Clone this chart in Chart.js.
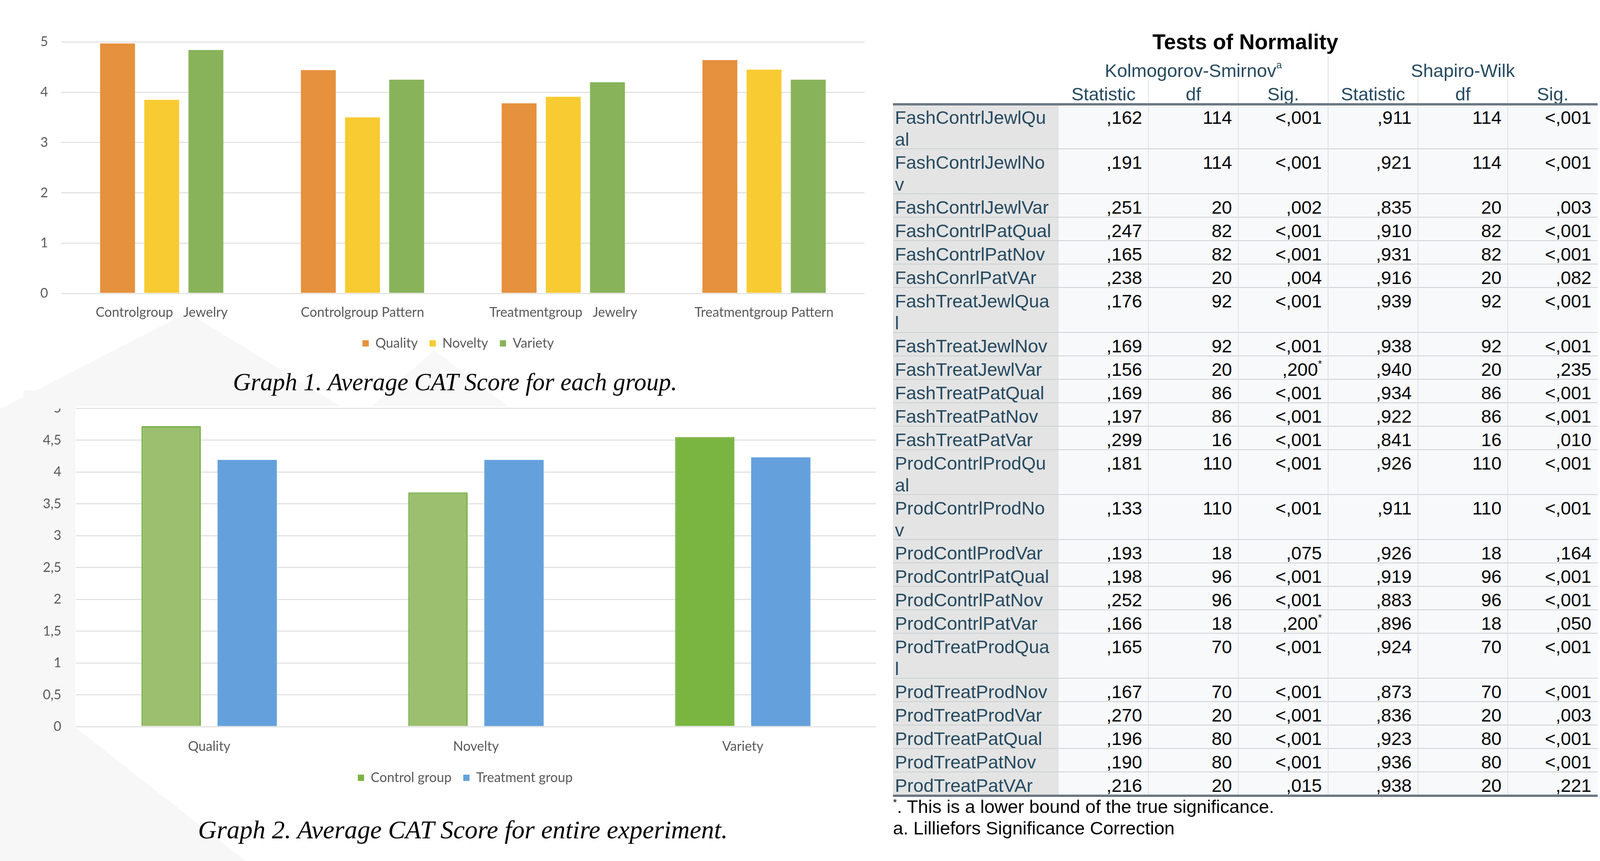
<!DOCTYPE html>
<html><head><meta charset="utf-8">
<script src="https://cdn.jsdelivr.net/npm/chart.js@4.4.1/dist/chart.umd.min.js"></script>
<style>
html,body{margin:0;padding:0;background:#fff;}
body{width:4267px;height:2204px;position:relative;overflow:hidden;font-family:"Liberation Sans",Arial,sans-serif;}
#bg{position:absolute;left:0;top:0;}
#c1wrap{position:absolute;left:40px;top:53px;width:2266px;height:867px;}
#c2wrap{position:absolute;left:40px;top:1040px;width:2302px;height:1000px;overflow:hidden;}
#c2inner{position:absolute;left:0;top:-52px;width:2302px;height:1052px;}
#cover{position:absolute;left:60px;top:1000px;width:130px;height:46px;background:#F7F7F7;}
.cap{position:absolute;font-family:"Liberation Serif","Times New Roman",serif;font-style:italic;color:#000;white-space:nowrap;transform:translate(-50%,-50%);line-height:1;}
#tbl{position:absolute;left:0;top:0;width:4267px;height:2204px;}
.t{position:absolute;white-space:pre;}
.hd{color:#264A60;font-size:47px;line-height:56px;text-align:center;}
.cell{position:absolute;box-sizing:border-box;font-size:47px;line-height:56px;padding-top:6px;white-space:pre;}
.lab{background:#E4E4E4;color:#264A60;padding-left:5px;}
.num{background:#F8F9FA;color:#010205;text-align:right;padding-right:16px;}
.sep{position:absolute;left:2286px;width:1804px;height:5px;background:#CBD0D4;}
.vl{position:absolute;width:2px;background:#DDE0E3;}
sup{font-size:26px;line-height:0;vertical-align:22px;}
</style>
</head><body>
<svg id="bg" width="4267" height="2204">
  <polygon points="0,1047 480,800 872,1040 193,1040 193,1862 628,2204 0,2204" fill="#F7F7F7"/>
  <polygon points="951,1040 1112,896 1300,1040" fill="#F8F8F8"/>
</svg>
<div id="c1wrap"><canvas id="c1"></canvas></div>
<div class="cap" style="left:1165px;top:978px;font-size:63px;">Graph 1. Average CAT Score for each group.</div>
<div id="c2wrap"><div id="c2inner"><canvas id="c2"></canvas></div></div>
<div id="cover"></div>
<div class="cap" style="left:1185px;top:2124px;font-size:66px;">Graph 2. Average CAT Score for entire experiment.</div>
<div id="tbl"></div>
<script>
// ---------- Graph 1 data ----------
const g1Categories = ["Controlgroup   Jewelry", "Controlgroup Pattern", "Treatmentgroup   Jewelry", "Treatmentgroup Pattern"];
const g1Quality = [4.97, 4.44, 3.78, 4.64];
const g1Novelty = [3.85, 3.50, 3.91, 4.45];
const g1Variety = [4.84, 4.25, 4.20, 4.25];
const g1Ticks = [0, 1, 2, 3, 4, 5];
const g1TickLabels = ["0", "1", "2", "3", "4", "5"];

// ---------- Graph 2 data ----------
const g2Categories = ["Quality", "Novelty", "Variety"];
const g2Control = [4.72, 3.68, 4.55];
const g2Treatment = [4.19, 4.19, 4.23];
const g2Ticks = [0, 0.5, 1, 1.5, 2, 2.5, 3, 3.5, 4, 4.5, 5];
const g2TickLabels = ["0", "0,5", "1", "1,5", "2", "2,5", "3", "3,5", "4", "4,5", "5"];

// ---------- Table data ----------
const tableTitle = "Tests of Normality";
const groupHeaders = ["Kolmogorov-Smirnov", "Shapiro-Wilk"];
const colHeaders = ["Statistic", "df", "Sig.", "Statistic", "df", "Sig."];
const rowNames = ["FashContrlJewlQu\nal", "FashContrlJewlNo\nv", "FashContrlJewlVar", "FashContrlPatQual", "FashContrlPatNov", "FashConrlPatVAr",
  "FashTreatJewlQua\nl", "FashTreatJewlNov", "FashTreatJewlVar", "FashTreatPatQual", "FashTreatPatNov", "FashTreatPatVar",
  "ProdContrlProdQu\nal", "ProdContrlProdNo\nv", "ProdContlProdVar", "ProdContrlPatQual", "ProdContrlPatNov", "ProdContrlPatVar",
  "ProdTreatProdQua\nl", "ProdTreatProdNov", "ProdTreatProdVar", "ProdTreatPatQual", "ProdTreatPatNov", "ProdTreatPatVAr"];
const ksStat = [",162", ",191", ",251", ",247", ",165", ",238", ",176", ",169", ",156", ",169", ",197", ",299", ",181", ",133", ",193", ",198", ",252", ",166", ",165", ",167", ",270", ",196", ",190", ",216"];
const ksDf = ["114", "114", "20", "82", "82", "20", "92", "92", "20", "86", "86", "16", "110", "110", "18", "96", "96", "18", "70", "70", "20", "80", "80", "20"];
const ksSig = ["<,001", "<,001", ",002", "<,001", "<,001", ",004", "<,001", "<,001", ",200*", "<,001", "<,001", "<,001", "<,001", "<,001", ",075", "<,001", "<,001", ",200*", "<,001", "<,001", "<,001", "<,001", "<,001", ",015"];
const swStat = [",911", ",921", ",835", ",910", ",931", ",916", ",939", ",938", ",940", ",934", ",922", ",841", ",926", ",911", ",926", ",919", ",883", ",896", ",924", ",873", ",836", ",923", ",936", ",938"];
const swDf = ["114", "114", "20", "82", "82", "20", "92", "92", "20", "86", "86", "16", "110", "110", "18", "96", "96", "18", "70", "70", "20", "80", "80", "20"];
const swSig = ["<,001", "<,001", ",003", "<,001", "<,001", ",082", "<,001", "<,001", ",235", "<,001", "<,001", ",010", "<,001", "<,001", ",164", "<,001", "<,001", ",050", "<,001", "<,001", ",003", "<,001", "<,001", ",221"];
const footnotes = ["*. This is a lower bound of the true significance.", "a. Lilliefors Significance Correction"];

// ---------- Charts ----------
const FONT = "Lato, 'Open Sans', sans-serif";
const GREY = '#595959';
const FS = 34;
// invisible right-hand spacer axis (keeps the legend centred like the original)
const spacer = w => ({position: 'right', display: true, min: 0, max: 1,
  grid: {display: false, drawTicks: false}, border: {display: false}, ticks: {display: false},
  afterFit(s) { s.width = w; }});

new Chart(document.getElementById('c1'), {
  type: 'bar',
  data: {
    labels: g1Categories,
    datasets: [
      {label: 'Quality', data: g1Quality, backgroundColor: '#E5913D'},
      {label: 'Novelty', data: g1Novelty, backgroundColor: '#F7CB31'},
      {label: 'Variety', data: g1Variety, backgroundColor: '#88B35A'}
    ]
  },
  options: {
    responsive: true, maintainAspectRatio: false, animation: false, devicePixelRatio: 1,
    layout: {padding: {left: 0, right: 0, top: 0, bottom: 14}},
    datasets: {bar: {categoryPercentage: 0.66, barPercentage: 0.79}},
    plugins: {
      legend: {position: 'bottom', labels: {boxWidth: 16, boxHeight: 16, padding: 30, color: GREY, font: {family: FONT, size: FS}}},
      tooltip: {enabled: false}
    },
    scales: {
      x: {grid: {display: false}, border: {display: false},
          ticks: {color: GREY, font: {family: FONT, size: FS}, padding: 21, maxRotation: 0, autoSkip: false},
          afterFit(s) { s.height = 81; }},
      y: {min: 0, max: 5,
          afterBuildTicks(s) { s.ticks = g1Ticks.map(v => ({value: v})); },
          grid: {color: '#E3E3E3', lineWidth: 3, drawTicks: false}, border: {display: false},
          ticks: {color: GREY, font: {family: FONT, size: FS}, padding: 34,
                  callback: v => g1TickLabels[g1Ticks.indexOf(v)]},
          afterFit(s) { s.width = 117; }},
      ySpacer: spacer(93)
    }
  }
});

new Chart(document.getElementById('c2'), {
  type: 'bar',
  data: {
    labels: g2Categories,
    datasets: [
      {label: 'Control group', data: g2Control,
       backgroundColor: ['#9BBF6E', '#9BBF6E', '#7AB441'],
       borderColor: ['#6FAD42', '#6FAD42', '#7AB441'], borderWidth: 3},
      {label: 'Treatment group', data: g2Treatment, backgroundColor: '#64A1DC'}
    ]
  },
  options: {
    responsive: true, maintainAspectRatio: false, animation: false, devicePixelRatio: 1,
    layout: {padding: {left: 0, right: 0, top: 0, bottom: 22}},
    datasets: {bar: {categoryPercentage: 0.57, barPercentage: 0.78}},
    plugins: {
      legend: {position: 'bottom', labels: {boxWidth: 16, boxHeight: 16, padding: 30, color: GREY, font: {family: FONT, size: FS},
        generateLabels(chart) {
          const items = Chart.defaults.plugins.legend.labels.generateLabels(chart);
          items.forEach(it => {
            if (it.datasetIndex === 0) { it.fillStyle = '#7AB441'; it.strokeStyle = '#7AB441'; }
            it.lineWidth = 0;
          });
          return items;
        }}},
      tooltip: {enabled: false}
    },
    scales: {
      x: {grid: {display: false}, border: {display: false},
          ticks: {color: GREY, font: {family: FONT, size: FS}, padding: 23, maxRotation: 0, autoSkip: false},
          afterFit(s) { s.height = 84; }},
      y: {min: 0, max: 5,
          afterBuildTicks(s) { s.ticks = g2Ticks.map(v => ({value: v})); },
          grid: {color: '#E3E3E3', lineWidth: 3, drawTicks: false}, border: {display: false},
          ticks: {color: GREY, font: {family: FONT, size: FS}, padding: 37,
                  callback: v => g2TickLabels[g2Ticks.indexOf(v)]},
          afterFit(s) { s.width = 154; }},
      ySpacer: spacer(99)
    }
  }
});

// ---------- Table ----------
(function buildTable() {
  const T = document.getElementById('tbl');
  const L = 2286, LABW = 424, COLW = 230, TOP = 267;
  const add = (html, style, cls) => {
    const d = document.createElement('div');
    d.className = cls || 't';
    d.setAttribute('style', style);
    d.innerHTML = html;
    T.appendChild(d);
    return d;
  };
  const esc = s => s.replace(/&/g, '&amp;').replace(/</g, '&lt;').replace(/\*$/, '<sup>*</sup>');
  const right = L + LABW + COLW * 6;
  add(tableTitle, `left:${L}px;width:${right - L}px;top:${107 - 33}px;font-size:55px;line-height:66px;font-weight:bold;text-align:center;color:#000;`);
  add(groupHeaders[0] + '<sup>a</sup>', `left:${L + LABW}px;width:${COLW * 3}px;top:${181 - 28}px;`, 't hd');
  add(groupHeaders[1], `left:${L + LABW + COLW * 3}px;width:${COLW * 3}px;top:${181 - 28}px;`, 't hd');
  colHeaders.forEach((h, i) => add(h, `left:${L + LABW + COLW * i}px;width:${COLW}px;top:${241 - 28}px;`, 't hd'));
  add('', `left:${L + LABW + COLW * 3 - 1}px;top:142px;height:${TOP - 142}px;`, 'vl');
  [1, 2, 4, 5].forEach(i => add('', `left:${L + LABW + COLW * i - 1}px;top:205px;height:${TOP - 205}px;`, 'vl'));
  let y = TOP;
  const cols = [ksStat, ksDf, ksSig, swStat, swDf, swSig];
  rowNames.forEach((name, r) => {
    const h = name.includes('\n') ? 115 : 60;
    add(esc(name), `left:${L}px;top:${y}px;width:${LABW}px;height:${h}px;`, 'cell lab');
    cols.forEach((c, i) => add(esc(c[r]), `left:${L + LABW + COLW * i}px;top:${y}px;width:${COLW}px;height:${h}px;`, 'cell num'));
    y += h;
    if (r < rowNames.length - 1) add('', `top:${y - 2.5}px;`, 'sep');
  });
  [1, 2, 3, 4, 5].forEach(i => add('', `left:${L + LABW + COLW * i - 1}px;top:${TOP}px;height:${y - TOP}px;`, 'vl'));
  add('', `left:${L}px;width:${right - L}px;top:${TOP - 3}px;height:6px;background:#6B7884;`, 't');
  add('', `left:${L}px;width:${right - L}px;top:${y - 3}px;height:6px;background:#6B7884;`, 't');
  footnotes.forEach((f, i) => add(esc(f.replace(/^\*/, '\u2217')).replace('\u2217', '<sup style="vertical-align:18px">*</sup>'),
    `left:${L}px;top:${2065 + i * 55 - 28}px;font-size:47px;line-height:56px;color:#010205;`));
})();
</script>
</body></html>
